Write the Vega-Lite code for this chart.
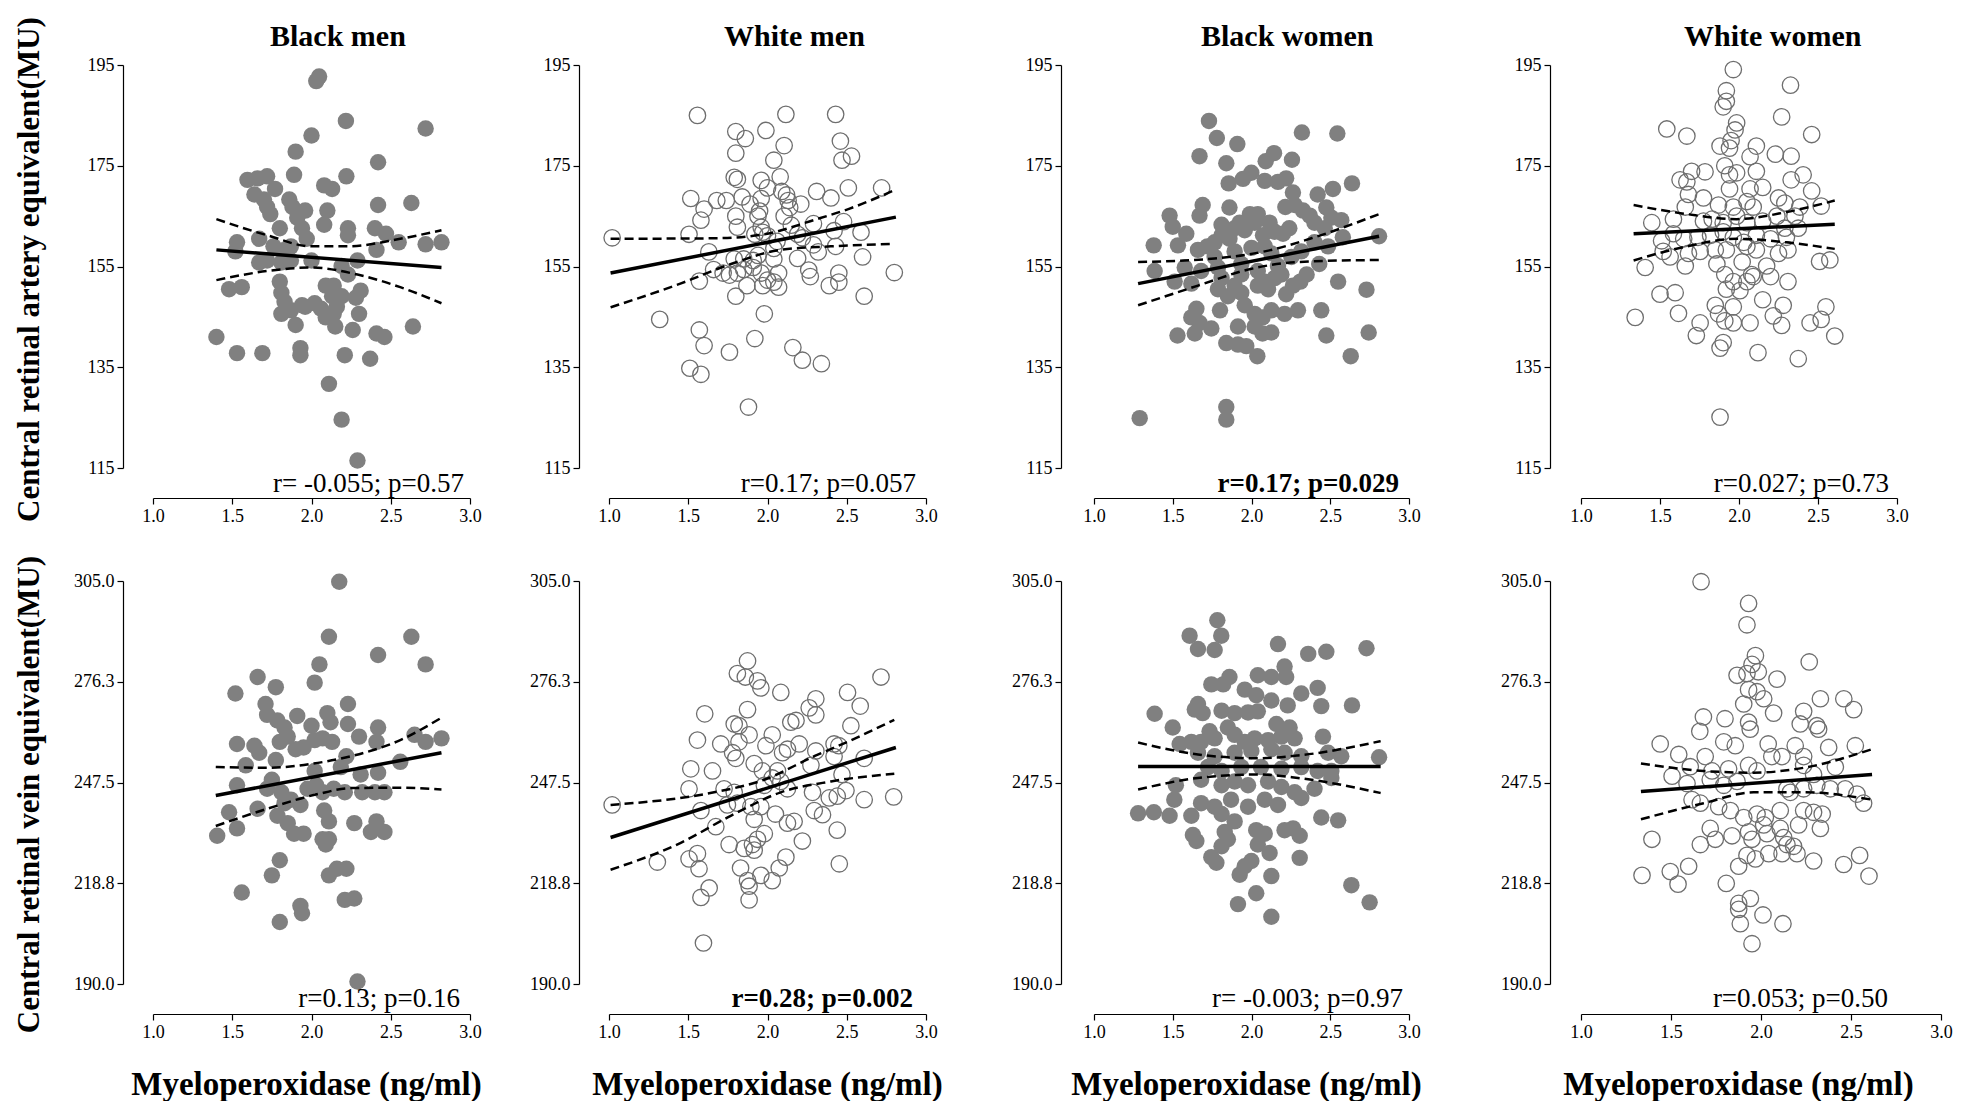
{
"$schema":"https://vega.github.io/schema/vega-lite/v6.json",
"background":"white",
"padding":{"left":12,"top":16,"right":0,"bottom":0},
"config":{"view":{"stroke":null},"font":"Liberation Serif",
"title":{"fontSize":30,"fontWeight":"bold","font":"Liberation Serif","color":"#000"},
"axis":{"grid":false,"labelFlush":false,"labelFont":"Liberation Serif","labelFontSize":18,"labelColor":"#000","tickSize":6,"tickColor":"#000","domainColor":"#000","domainWidth":1.2,"tickWidth":1.2,"labelPadding":3,"titleFont":"Liberation Serif","titleFontWeight":"bold","titleColor":"#000"}},
"datasets":{
"a1":[{"x":2.048,"y":192.7},{"x":2.03,"y":191.8},{"x":2.217,"y":183.9},{"x":2.72,"y":182.4},{"x":2.0,"y":181.0},{"x":1.90,"y":177.8},{"x":2.42,"y":175.7},{"x":1.596,"y":172.2},{"x":1.66,"y":172.5},{"x":1.72,"y":172.9},{"x":1.89,"y":173.2},{"x":2.22,"y":172.9},{"x":1.77,"y":170.4},{"x":2.08,"y":171.1},{"x":2.13,"y":170.4},{"x":1.64,"y":169.3},{"x":1.70,"y":168.3},{"x":1.72,"y":166.8},{"x":1.74,"y":165.4},{"x":1.86,"y":168.3},{"x":1.88,"y":166.8},{"x":1.96,"y":166.1},{"x":1.91,"y":164.7},{"x":1.94,"y":162.6},{"x":2.10,"y":166.1},{"x":2.42,"y":167.2},{"x":2.63,"y":167.6},{"x":1.80,"y":162.6},{"x":2.08,"y":163.3},{"x":2.23,"y":162.6},{"x":2.23,"y":161.2},{"x":2.40,"y":162.6},{"x":2.47,"y":161.5},{"x":1.97,"y":160.5},{"x":1.53,"y":159.8},{"x":1.52,"y":158.0},{"x":1.67,"y":160.5},{"x":1.76,"y":159.0},{"x":1.83,"y":158.3},{"x":1.87,"y":159.0},{"x":2.55,"y":159.8},{"x":2.72,"y":159.4},{"x":2.82,"y":159.8},{"x":2.41,"y":158.3},{"x":1.67,"y":155.8},{"x":1.72,"y":156.2},{"x":1.81,"y":155.8},{"x":1.87,"y":156.2},{"x":2.0,"y":156.2},{"x":2.19,"y":155.1},{"x":2.29,"y":156.2},{"x":2.23,"y":153.4},{"x":1.48,"y":150.5},{"x":1.56,"y":150.9},{"x":1.80,"y":152.0},{"x":1.81,"y":149.8},{"x":1.83,"y":148.0},{"x":2.09,"y":151.2},{"x":2.14,"y":151.2},{"x":2.13,"y":149.1},{"x":2.19,"y":149.1},{"x":2.16,"y":147.0},{"x":2.31,"y":150.2},{"x":2.28,"y":148.8},{"x":1.94,"y":147.3},{"x":1.96,"y":147.0},{"x":2.02,"y":147.7},{"x":2.06,"y":146.6},{"x":2.09,"y":144.9},{"x":2.14,"y":145.6},{"x":1.81,"y":145.6},{"x":1.87,"y":146.3},{"x":1.90,"y":143.4},{"x":2.30,"y":145.6},{"x":2.15,"y":143.1},{"x":2.26,"y":142.4},{"x":2.41,"y":141.7},{"x":2.46,"y":141.0},{"x":2.64,"y":143.1},{"x":1.40,"y":141.0},{"x":1.53,"y":137.8},{"x":1.69,"y":137.8},{"x":1.93,"y":138.8},{"x":1.93,"y":137.4},{"x":2.21,"y":137.4},{"x":2.37,"y":136.7},{"x":2.11,"y":131.7},{"x":2.19,"y":124.6},{"x":2.29,"y":116.5}],
"a2":[{"x":1.558,"y":185.0},{"x":2.116,"y":185.2},{"x":2.43,"y":185.2},{"x":1.80,"y":181.8},{"x":1.86,"y":180.4},{"x":1.99,"y":182.0},{"x":2.46,"y":179.9},{"x":2.105,"y":179.0},{"x":1.80,"y":177.5},{"x":2.04,"y":176.1},{"x":2.53,"y":176.9},{"x":2.47,"y":176.1},{"x":1.79,"y":172.7},{"x":1.81,"y":172.3},{"x":1.96,"y":172.1},{"x":2.08,"y":172.8},{"x":2.0,"y":170.6},{"x":2.09,"y":169.9},{"x":2.12,"y":169.2},{"x":2.31,"y":169.9},{"x":2.51,"y":170.6},{"x":2.72,"y":170.6},{"x":1.516,"y":168.5},{"x":1.68,"y":168.1},{"x":1.74,"y":168.1},{"x":1.84,"y":168.8},{"x":1.89,"y":167.4},{"x":1.95,"y":166.0},{"x":1.96,"y":168.5},{"x":2.13,"y":168.1},{"x":2.14,"y":166.7},{"x":2.21,"y":167.4},{"x":2.40,"y":168.6},{"x":1.60,"y":166.4},{"x":1.58,"y":164.2},{"x":1.80,"y":165.0},{"x":1.81,"y":162.8},{"x":1.94,"y":165.0},{"x":1.96,"y":162.8},{"x":2.105,"y":165.0},{"x":2.15,"y":163.2},{"x":2.29,"y":163.5},{"x":2.48,"y":163.9},{"x":2.42,"y":162.1},{"x":2.59,"y":161.8},{"x":1.505,"y":161.4},{"x":1.92,"y":161.4},{"x":1.97,"y":161.8},{"x":2.0,"y":161.1},{"x":2.06,"y":160.0},{"x":2.04,"y":158.6},{"x":2.19,"y":161.4},{"x":2.22,"y":160.7},{"x":2.29,"y":159.3},{"x":2.32,"y":157.9},{"x":2.43,"y":159.0},{"x":1.02,"y":160.7},{"x":1.63,"y":157.9},{"x":1.79,"y":156.5},{"x":1.85,"y":156.5},{"x":1.91,"y":156.2},{"x":1.94,"y":157.2},{"x":2.04,"y":156.5},{"x":2.19,"y":156.6},{"x":2.60,"y":156.9},{"x":1.66,"y":154.4},{"x":1.72,"y":153.7},{"x":1.76,"y":153.3},{"x":1.81,"y":153.7},{"x":1.85,"y":154.4},{"x":1.91,"y":154.8},{"x":1.96,"y":153.7},{"x":2.0,"y":152.3},{"x":2.07,"y":153.7},{"x":2.26,"y":154.3},{"x":2.27,"y":153.0},{"x":2.45,"y":153.7},{"x":2.80,"y":153.8},{"x":1.57,"y":152.1},{"x":1.87,"y":151.2},{"x":1.97,"y":151.2},{"x":2.04,"y":151.9},{"x":2.07,"y":150.9},{"x":2.39,"y":151.2},{"x":2.45,"y":151.9},{"x":1.80,"y":149.1},{"x":2.61,"y":149.1},{"x":1.98,"y":145.6},{"x":1.32,"y":144.5},{"x":1.57,"y":142.4},{"x":1.60,"y":139.3},{"x":1.92,"y":140.7},{"x":1.76,"y":138.0},{"x":2.16,"y":138.9},{"x":2.22,"y":136.4},{"x":2.34,"y":135.7},{"x":1.51,"y":134.8},{"x":1.58,"y":133.6},{"x":1.88,"y":127.1}],
"a3":[{"x":1.73,"y":183.9},{"x":1.78,"y":180.5},{"x":1.91,"y":179.3},{"x":2.32,"y":181.6},{"x":2.545,"y":181.4},{"x":1.67,"y":176.9},{"x":1.84,"y":175.5},{"x":2.09,"y":175.9},{"x":2.143,"y":177.5},{"x":2.257,"y":176.2},{"x":1.855,"y":171.5},{"x":1.946,"y":172.4},{"x":1.999,"y":173.6},{"x":2.084,"y":172.0},{"x":2.168,"y":171.8},{"x":2.22,"y":172.5},{"x":2.517,"y":170.4},{"x":2.638,"y":171.5},{"x":2.263,"y":169.7},{"x":2.42,"y":169.3},{"x":1.69,"y":167.2},{"x":1.67,"y":165.1},{"x":1.86,"y":166.7},{"x":2.215,"y":166.8},{"x":2.274,"y":167.2},{"x":2.327,"y":166.1},{"x":2.475,"y":166.7},{"x":1.48,"y":165.1},{"x":1.50,"y":162.9},{"x":1.586,"y":161.5},{"x":1.379,"y":159.2},{"x":1.533,"y":159.2},{"x":1.81,"y":163.3},{"x":1.81,"y":161.2},{"x":1.925,"y":163.7},{"x":1.957,"y":162.2},{"x":1.99,"y":165.4},{"x":2.04,"y":165.4},{"x":2.02,"y":163.7},{"x":2.115,"y":163.7},{"x":2.147,"y":161.9},{"x":2.24,"y":162.6},{"x":2.2,"y":161.5},{"x":2.37,"y":165.1},{"x":2.40,"y":163.7},{"x":2.57,"y":164.2},{"x":2.465,"y":162.6},{"x":2.486,"y":159.0},{"x":2.58,"y":160.8},{"x":2.81,"y":161.0},{"x":1.66,"y":158.3},{"x":1.72,"y":159.0},{"x":1.766,"y":159.8},{"x":1.86,"y":160.5},{"x":1.893,"y":158.0},{"x":2.0,"y":158.7},{"x":2.084,"y":159.0},{"x":2.126,"y":157.6},{"x":2.316,"y":158.0},{"x":2.43,"y":155.5},{"x":1.385,"y":154.1},{"x":1.512,"y":152.0},{"x":1.576,"y":154.8},{"x":1.618,"y":151.6},{"x":1.68,"y":154.1},{"x":1.787,"y":154.8},{"x":1.81,"y":152.7},{"x":1.935,"y":155.5},{"x":1.935,"y":153.4},{"x":2.04,"y":154.1},{"x":2.084,"y":152.0},{"x":2.168,"y":155.1},{"x":2.19,"y":153.4},{"x":2.35,"y":153.4},{"x":2.31,"y":152.0},{"x":1.787,"y":150.5},{"x":1.85,"y":149.1},{"x":1.80,"y":146.3},{"x":1.935,"y":149.8},{"x":1.957,"y":147.3},{"x":2.04,"y":151.2},{"x":2.105,"y":150.5},{"x":2.22,"y":149.5},{"x":2.263,"y":151.2},{"x":2.55,"y":152.0},{"x":2.73,"y":150.4},{"x":1.65,"y":146.6},{"x":1.618,"y":144.9},{"x":1.67,"y":143.8},{"x":1.745,"y":142.7},{"x":1.64,"y":141.7},{"x":1.914,"y":143.1},{"x":2.02,"y":145.6},{"x":2.07,"y":144.9},{"x":2.126,"y":146.3},{"x":2.21,"y":145.6},{"x":2.295,"y":146.3},{"x":2.443,"y":146.3},{"x":2.02,"y":143.1},{"x":2.07,"y":141.7},{"x":2.126,"y":141.9},{"x":1.53,"y":141.3},{"x":2.475,"y":141.3},{"x":2.744,"y":141.9},{"x":1.84,"y":139.8},{"x":1.914,"y":139.5},{"x":1.967,"y":139.2},{"x":2.037,"y":137.2},{"x":2.63,"y":137.2},{"x":1.84,"y":127.1},{"x":1.84,"y":124.6},{"x":1.29,"y":124.9},{"x":1.893,"y":162.6},{"x":2.073,"y":161.2},{"x":1.766,"y":156.9},{"x":2.253,"y":156.9},{"x":2.40,"y":159.8},{"x":2.507,"y":164.7},{"x":2.147,"y":152.7},{"x":1.893,"y":151.2}],
"a4":[{"x":1.964,"y":194.1},{"x":2.326,"y":191.0},{"x":1.92,"y":189.9},{"x":1.90,"y":186.7},{"x":1.92,"y":187.8},{"x":2.27,"y":184.7},{"x":1.985,"y":183.5},{"x":1.975,"y":182.1},{"x":1.543,"y":182.3},{"x":1.67,"y":180.9},{"x":2.46,"y":181.2},{"x":1.95,"y":180.0},{"x":1.94,"y":178.5},{"x":1.88,"y":178.9},{"x":2.11,"y":178.9},{"x":2.23,"y":177.3},{"x":2.33,"y":176.9},{"x":2.07,"y":176.8},{"x":1.91,"y":175.0},{"x":1.94,"y":173.2},{"x":1.985,"y":173.6},{"x":2.11,"y":173.9},{"x":1.70,"y":173.9},{"x":1.785,"y":173.8},{"x":1.627,"y":172.2},{"x":1.67,"y":171.8},{"x":2.406,"y":173.2},{"x":2.33,"y":172.2},{"x":2.46,"y":170.0},{"x":1.68,"y":169.3},{"x":1.775,"y":168.6},{"x":1.94,"y":170.4},{"x":2.07,"y":170.4},{"x":2.15,"y":170.7},{"x":2.25,"y":168.6},{"x":2.29,"y":167.6},{"x":1.66,"y":166.8},{"x":1.87,"y":167.2},{"x":1.964,"y":166.8},{"x":2.05,"y":167.9},{"x":2.09,"y":166.8},{"x":2.385,"y":166.8},{"x":2.52,"y":167.0},{"x":1.448,"y":163.7},{"x":1.585,"y":164.4},{"x":1.775,"y":164.0},{"x":1.83,"y":164.4},{"x":1.90,"y":163.7},{"x":1.985,"y":165.0},{"x":2.05,"y":163.7},{"x":2.15,"y":164.0},{"x":2.24,"y":165.0},{"x":2.29,"y":162.6},{"x":2.354,"y":165.0},{"x":2.375,"y":162.6},{"x":1.51,"y":160.1},{"x":1.585,"y":161.5},{"x":1.65,"y":160.5},{"x":1.74,"y":160.8},{"x":1.82,"y":161.2},{"x":1.90,"y":161.9},{"x":1.964,"y":160.8},{"x":2.03,"y":159.8},{"x":2.11,"y":161.2},{"x":2.20,"y":160.5},{"x":2.30,"y":160.8},{"x":1.52,"y":158.0},{"x":1.564,"y":156.9},{"x":1.68,"y":157.6},{"x":1.754,"y":158.0},{"x":1.85,"y":158.3},{"x":1.92,"y":158.3},{"x":2.05,"y":159.0},{"x":2.11,"y":158.3},{"x":2.25,"y":157.6},{"x":2.31,"y":158.3},{"x":1.406,"y":154.8},{"x":1.66,"y":155.1},{"x":1.86,"y":155.5},{"x":1.91,"y":153.4},{"x":2.02,"y":155.9},{"x":2.08,"y":153.4},{"x":2.175,"y":155.1},{"x":2.20,"y":153.0},{"x":2.51,"y":156.0},{"x":2.575,"y":156.3},{"x":1.50,"y":149.5},{"x":1.596,"y":149.8},{"x":1.92,"y":150.5},{"x":1.964,"y":152.0},{"x":2.006,"y":150.2},{"x":2.05,"y":152.0},{"x":2.09,"y":153.0},{"x":2.31,"y":152.0},{"x":2.15,"y":148.4},{"x":1.85,"y":147.3},{"x":1.964,"y":147.0},{"x":2.28,"y":147.3},{"x":2.55,"y":147.0},{"x":1.343,"y":144.9},{"x":1.617,"y":145.7},{"x":1.754,"y":143.8},{"x":1.87,"y":145.6},{"x":1.91,"y":144.2},{"x":1.964,"y":143.8},{"x":2.07,"y":143.8},{"x":2.217,"y":145.2},{"x":2.27,"y":143.3},{"x":2.45,"y":143.8},{"x":2.52,"y":144.5},{"x":1.73,"y":141.3},{"x":1.90,"y":139.9},{"x":1.88,"y":138.8},{"x":2.606,"y":141.2},{"x":2.12,"y":137.9},{"x":2.375,"y":136.7},{"x":1.88,"y":125.1}],
"b1":[{"x":2.175,"y":304.8},{"x":2.11,"y":289.1},{"x":2.63,"y":289.1},{"x":2.42,"y":283.9},{"x":2.05,"y":281.2},{"x":2.72,"y":281.2},{"x":2.02,"y":276.0},{"x":1.66,"y":277.6},{"x":1.775,"y":274.7},{"x":1.52,"y":272.9},{"x":1.71,"y":269.9},{"x":1.72,"y":266.8},{"x":2.23,"y":269.9},{"x":1.91,"y":266.5},{"x":2.10,"y":267.3},{"x":2.12,"y":264.7},{"x":2.23,"y":264.2},{"x":1.785,"y":265.2},{"x":1.83,"y":263.2},{"x":2.0,"y":263.7},{"x":2.42,"y":263.2},{"x":2.30,"y":260.6},{"x":2.65,"y":261.1},{"x":2.72,"y":259.1},{"x":2.82,"y":260.1},{"x":1.53,"y":258.5},{"x":1.64,"y":258.0},{"x":1.67,"y":256.0},{"x":1.80,"y":259.1},{"x":1.85,"y":260.6},{"x":1.90,"y":257.0},{"x":1.95,"y":257.5},{"x":2.02,"y":259.6},{"x":2.07,"y":260.1},{"x":2.13,"y":259.1},{"x":2.41,"y":259.1},{"x":1.585,"y":252.4},{"x":1.775,"y":253.9},{"x":2.56,"y":253.4},{"x":2.22,"y":255.0},{"x":2.185,"y":251.9},{"x":2.02,"y":250.8},{"x":1.53,"y":246.7},{"x":1.75,"y":248.3},{"x":1.72,"y":245.7},{"x":1.81,"y":244.7},{"x":1.975,"y":245.7},{"x":2.03,"y":246.7},{"x":2.07,"y":244.7},{"x":2.14,"y":245.7},{"x":2.21,"y":244.7},{"x":2.31,"y":249.8},{"x":2.32,"y":244.7},{"x":2.40,"y":244.7},{"x":2.46,"y":244.7},{"x":2.42,"y":250.3},{"x":1.83,"y":241.6},{"x":1.87,"y":242.6},{"x":1.93,"y":241.1},{"x":1.48,"y":239.0},{"x":1.66,"y":240.0},{"x":1.785,"y":238.0},{"x":1.85,"y":235.9},{"x":2.08,"y":239.5},{"x":2.11,"y":236.4},{"x":2.27,"y":235.9},{"x":2.41,"y":236.4},{"x":1.53,"y":234.4},{"x":1.405,"y":232.3},{"x":1.89,"y":232.9},{"x":1.95,"y":232.9},{"x":2.07,"y":231.3},{"x":2.11,"y":231.3},{"x":2.09,"y":229.8},{"x":2.375,"y":233.4},{"x":2.46,"y":233.4},{"x":1.80,"y":225.3},{"x":1.75,"y":221.0},{"x":1.56,"y":216.1},{"x":2.11,"y":221.0},{"x":2.16,"y":222.9},{"x":2.22,"y":222.9},{"x":2.21,"y":214.0},{"x":2.27,"y":214.4},{"x":1.93,"y":212.3},{"x":1.94,"y":210.2},{"x":1.80,"y":207.7},{"x":2.29,"y":190.7}],
"b2":[{"x":1.874,"y":282.2},{"x":1.81,"y":278.6},{"x":1.86,"y":277.6},{"x":1.937,"y":276.5},{"x":1.958,"y":274.5},{"x":2.716,"y":277.6},{"x":2.084,"y":273.2},{"x":2.505,"y":273.2},{"x":2.305,"y":271.4},{"x":2.263,"y":268.8},{"x":2.305,"y":266.8},{"x":2.585,"y":269.3},{"x":1.604,"y":267.1},{"x":1.874,"y":268.3},{"x":1.79,"y":264.2},{"x":1.82,"y":263.7},{"x":2.147,"y":264.7},{"x":2.18,"y":265.2},{"x":2.526,"y":263.7},{"x":1.884,"y":261.1},{"x":2.03,"y":261.1},{"x":1.558,"y":259.6},{"x":1.705,"y":258.5},{"x":1.82,"y":259.1},{"x":1.78,"y":256.0},{"x":1.80,"y":254.4},{"x":1.99,"y":258.0},{"x":2.095,"y":256.0},{"x":2.126,"y":257.0},{"x":2.2,"y":258.5},{"x":2.305,"y":256.5},{"x":2.42,"y":258.5},{"x":2.45,"y":258.0},{"x":2.61,"y":254.4},{"x":1.516,"y":251.4},{"x":1.653,"y":250.8},{"x":1.916,"y":252.9},{"x":1.968,"y":250.8},{"x":2.063,"y":250.8},{"x":2.03,"y":248.8},{"x":2.274,"y":252.4},{"x":2.42,"y":254.9},{"x":2.47,"y":249.8},{"x":1.505,"y":245.7},{"x":1.726,"y":245.7},{"x":1.79,"y":244.7},{"x":1.98,"y":246.7},{"x":2.084,"y":247.8},{"x":2.126,"y":245.7},{"x":2.284,"y":244.7},{"x":2.39,"y":243.1},{"x":2.44,"y":243.6},{"x":2.495,"y":245.2},{"x":2.61,"y":242.6},{"x":2.796,"y":243.4},{"x":1.02,"y":241.1},{"x":1.58,"y":239.5},{"x":1.747,"y":241.1},{"x":1.81,"y":241.6},{"x":1.895,"y":240.6},{"x":1.958,"y":240.6},{"x":2.05,"y":238.5},{"x":2.126,"y":235.9},{"x":2.168,"y":236.4},{"x":2.295,"y":239.5},{"x":2.347,"y":238.3},{"x":1.674,"y":234.9},{"x":1.916,"y":237.0},{"x":1.98,"y":232.9},{"x":1.937,"y":231.3},{"x":2.22,"y":230.8},{"x":2.44,"y":233.9},{"x":1.758,"y":229.8},{"x":1.853,"y":228.7},{"x":1.905,"y":229.8},{"x":1.916,"y":228.2},{"x":1.558,"y":227.2},{"x":1.505,"y":225.7},{"x":1.305,"y":224.8},{"x":2.453,"y":224.3},{"x":1.568,"y":222.9},{"x":1.83,"y":223.1},{"x":2.116,"y":226.2},{"x":2.074,"y":223.1},{"x":1.958,"y":221.0},{"x":2.03,"y":219.5},{"x":1.874,"y":219.5},{"x":1.884,"y":217.9},{"x":1.632,"y":217.4},{"x":1.58,"y":214.7},{"x":1.884,"y":214.0},{"x":1.596,"y":201.7}],
"b3":[{"x":1.783,"y":293.8},{"x":1.607,"y":289.4},{"x":1.66,"y":285.6},{"x":1.808,"y":289.4},{"x":1.766,"y":285.3},{"x":2.168,"y":287.0},{"x":2.36,"y":284.2},{"x":2.475,"y":284.8},{"x":2.73,"y":285.8},{"x":2.21,"y":280.6},{"x":2.22,"y":277.6},{"x":2.04,"y":278.1},{"x":2.126,"y":277.6},{"x":1.86,"y":277.6},{"x":1.82,"y":275.5},{"x":1.745,"y":275.5},{"x":1.957,"y":274.0},{"x":2.03,"y":272.4},{"x":2.316,"y":272.9},{"x":2.42,"y":274.5},{"x":1.66,"y":269.9},{"x":1.64,"y":268.3},{"x":1.69,"y":267.3},{"x":1.385,"y":267.1},{"x":1.81,"y":268.0},{"x":1.893,"y":267.3},{"x":1.978,"y":267.5},{"x":2.04,"y":267.8},{"x":2.126,"y":270.9},{"x":2.23,"y":269.5},{"x":2.443,"y":269.3},{"x":2.638,"y":269.5},{"x":1.50,"y":263.2},{"x":1.734,"y":262.1},{"x":1.85,"y":263.2},{"x":2.158,"y":264.2},{"x":2.242,"y":263.2},{"x":1.544,"y":258.5},{"x":1.618,"y":259.1},{"x":1.68,"y":259.1},{"x":1.766,"y":260.1},{"x":1.893,"y":261.1},{"x":1.957,"y":259.1},{"x":2.02,"y":260.1},{"x":2.105,"y":259.6},{"x":2.19,"y":260.6},{"x":2.274,"y":260.1},{"x":2.454,"y":260.6},{"x":1.66,"y":256.0},{"x":1.766,"y":255.0},{"x":1.893,"y":256.0},{"x":1.999,"y":256.5},{"x":2.126,"y":257.0},{"x":2.21,"y":256.0},{"x":2.316,"y":255.0},{"x":2.486,"y":256.0},{"x":2.57,"y":255.0},{"x":2.81,"y":254.7},{"x":1.724,"y":251.9},{"x":1.81,"y":250.8},{"x":1.935,"y":251.9},{"x":2.06,"y":251.9},{"x":2.19,"y":251.4},{"x":2.316,"y":251.9},{"x":2.42,"y":250.8},{"x":2.507,"y":250.8},{"x":1.52,"y":246.7},{"x":1.68,"y":248.3},{"x":1.81,"y":246.7},{"x":1.893,"y":247.8},{"x":1.978,"y":246.7},{"x":2.105,"y":247.8},{"x":2.19,"y":246.2},{"x":2.274,"y":244.7},{"x":2.40,"y":245.7},{"x":2.507,"y":248.8},{"x":1.51,"y":242.6},{"x":1.68,"y":241.6},{"x":1.766,"y":240.6},{"x":1.87,"y":242.6},{"x":1.978,"y":240.6},{"x":2.084,"y":242.6},{"x":2.168,"y":241.1},{"x":2.316,"y":243.1},{"x":1.28,"y":238.7},{"x":1.38,"y":239.0},{"x":1.48,"y":238.0},{"x":1.618,"y":238.0},{"x":1.81,"y":238.5},{"x":1.893,"y":236.4},{"x":2.443,"y":237.5},{"x":2.55,"y":236.7},{"x":1.628,"y":232.5},{"x":1.65,"y":230.8},{"x":1.83,"y":233.4},{"x":1.85,"y":231.3},{"x":2.03,"y":233.9},{"x":2.084,"y":232.9},{"x":2.21,"y":233.9},{"x":2.264,"y":234.4},{"x":2.306,"y":232.3},{"x":1.81,"y":229.3},{"x":2.04,"y":229.8},{"x":2.115,"y":227.4},{"x":1.745,"y":226.2},{"x":1.777,"y":224.6},{"x":2.306,"y":226.0},{"x":1.999,"y":225.1},{"x":1.957,"y":223.6},{"x":1.925,"y":221.2},{"x":2.126,"y":220.8},{"x":2.634,"y":218.2},{"x":2.03,"y":215.9},{"x":1.914,"y":212.8},{"x":2.75,"y":213.3},{"x":2.126,"y":209.2}],
"b4":[{"x":1.667,"y":304.8},{"x":1.931,"y":298.6},{"x":1.922,"y":292.5},{"x":2.268,"y":281.9},{"x":1.969,"y":283.7},{"x":1.95,"y":281.2},{"x":1.867,"y":278.1},{"x":1.922,"y":278.6},{"x":1.985,"y":279.1},{"x":2.089,"y":277.0},{"x":1.931,"y":274.0},{"x":1.978,"y":273.4},{"x":2.015,"y":271.4},{"x":1.904,"y":269.9},{"x":2.07,"y":267.3},{"x":2.33,"y":271.4},{"x":2.46,"y":271.4},{"x":2.515,"y":268.3},{"x":1.68,"y":266.2},{"x":1.66,"y":262.1},{"x":1.80,"y":265.7},{"x":1.931,"y":264.7},{"x":1.94,"y":262.7},{"x":2.218,"y":264.2},{"x":2.237,"y":267.8},{"x":2.31,"y":263.7},{"x":2.32,"y":262.7},{"x":1.44,"y":258.5},{"x":1.543,"y":255.5},{"x":1.69,"y":254.9},{"x":1.793,"y":259.1},{"x":1.857,"y":258.0},{"x":2.04,"y":258.5},{"x":2.06,"y":254.9},{"x":2.117,"y":254.9},{"x":2.19,"y":258.0},{"x":2.237,"y":254.9},{"x":2.376,"y":257.5},{"x":2.524,"y":258.0},{"x":1.506,"y":249.3},{"x":1.607,"y":252.0},{"x":1.728,"y":250.8},{"x":1.82,"y":251.4},{"x":1.931,"y":252.4},{"x":1.978,"y":250.8},{"x":2.237,"y":252.4},{"x":2.292,"y":249.8},{"x":2.413,"y":251.9},{"x":1.589,"y":247.2},{"x":1.718,"y":248.3},{"x":1.793,"y":246.7},{"x":1.867,"y":247.8},{"x":2.144,"y":245.7},{"x":2.163,"y":244.7},{"x":2.237,"y":245.7},{"x":2.31,"y":246.7},{"x":2.385,"y":245.7},{"x":2.533,"y":244.2},{"x":2.57,"y":241.6},{"x":2.468,"y":245.7},{"x":1.617,"y":242.6},{"x":1.663,"y":241.6},{"x":1.765,"y":240.6},{"x":1.83,"y":239.5},{"x":1.904,"y":237.5},{"x":1.978,"y":238.5},{"x":2.024,"y":237.5},{"x":2.237,"y":239.5},{"x":2.292,"y":239.0},{"x":2.34,"y":238.5},{"x":2.107,"y":239.5},{"x":1.718,"y":234.4},{"x":1.746,"y":231.3},{"x":1.663,"y":229.8},{"x":1.839,"y":232.3},{"x":1.931,"y":233.4},{"x":1.95,"y":231.3},{"x":2.015,"y":235.4},{"x":2.033,"y":232.9},{"x":2.107,"y":234.4},{"x":2.126,"y":231.8},{"x":2.144,"y":229.8},{"x":2.209,"y":235.4},{"x":2.33,"y":234.4},{"x":2.181,"y":229.3},{"x":2.2,"y":227.2},{"x":1.922,"y":226.7},{"x":1.969,"y":225.7},{"x":2.043,"y":227.2},{"x":2.117,"y":227.2},{"x":2.292,"y":225.1},{"x":1.394,"y":231.3},{"x":1.598,"y":223.6},{"x":1.496,"y":222.1},{"x":1.539,"y":218.5},{"x":1.339,"y":221.0},{"x":1.876,"y":223.6},{"x":1.807,"y":218.7},{"x":2.459,"y":224.1},{"x":2.548,"y":226.7},{"x":2.60,"y":220.8},{"x":1.941,"y":214.4},{"x":1.876,"y":213.0},{"x":1.876,"y":211.3},{"x":1.885,"y":207.2},{"x":2.011,"y":209.7},{"x":2.122,"y":207.2},{"x":1.95,"y":201.5}],
"f1":[{"x":1.40,"y":158.3,"k":"fit"},{"x":2.82,"y":154.8,"k":"fit"},{"x":1.40,"y":164.4,"k":"up"},{"x":1.72,"y":161.2,"k":"up"},{"x":2.0,"y":159.0,"k":"up"},{"x":2.23,"y":159.0,"k":"up"},{"x":2.56,"y":160.5,"k":"up"},{"x":2.82,"y":162.2,"k":"up"},{"x":1.40,"y":152.3,"k":"lo"},{"x":1.72,"y":154.1,"k":"lo"},{"x":2.0,"y":154.8,"k":"lo"},{"x":2.29,"y":153.4,"k":"lo"},{"x":2.56,"y":150.9,"k":"lo"},{"x":2.82,"y":147.7,"k":"lo"}],
"f2":[{"x":1.01,"y":153.7,"k":"fit"},{"x":2.81,"y":164.8,"k":"fit"},{"x":1.01,"y":160.5,"k":"up"},{"x":1.66,"y":160.6,"k":"up"},{"x":1.98,"y":161.4,"k":"up"},{"x":2.29,"y":164.2,"k":"up"},{"x":2.51,"y":166.4,"k":"up"},{"x":2.79,"y":170.0,"k":"up"},{"x":1.01,"y":146.9,"k":"lo"},{"x":1.45,"y":151.6,"k":"lo"},{"x":1.77,"y":155.5,"k":"lo"},{"x":2.08,"y":158.3,"k":"lo"},{"x":2.40,"y":159.0,"k":"lo"},{"x":2.80,"y":159.5,"k":"lo"}],
"f3":[{"x":1.28,"y":151.6,"k":"fit"},{"x":2.81,"y":161.0,"k":"fit"},{"x":1.28,"y":155.9,"k":"up"},{"x":1.766,"y":156.6,"k":"up"},{"x":2.084,"y":158.0,"k":"up"},{"x":2.40,"y":160.8,"k":"up"},{"x":2.81,"y":165.4,"k":"up"},{"x":1.28,"y":147.3,"k":"lo"},{"x":1.66,"y":151.2,"k":"lo"},{"x":1.98,"y":154.4,"k":"lo"},{"x":2.295,"y":155.9,"k":"lo"},{"x":2.81,"y":156.3,"k":"lo"}],
"f4":[{"x":1.333,"y":161.5,"k":"fit"},{"x":2.606,"y":163.4,"k":"fit"},{"x":1.333,"y":167.2,"k":"up"},{"x":1.67,"y":165.4,"k":"up"},{"x":1.985,"y":164.4,"k":"up"},{"x":2.30,"y":165.8,"k":"up"},{"x":2.606,"y":168.1,"k":"up"},{"x":1.333,"y":156.2,"k":"lo"},{"x":1.67,"y":159.0,"k":"lo"},{"x":1.985,"y":160.5,"k":"lo"},{"x":2.30,"y":159.8,"k":"lo"},{"x":2.606,"y":158.5,"k":"lo"}],
"f5":[{"x":1.396,"y":243.8,"k":"fit"},{"x":2.82,"y":256.0,"k":"fit"},{"x":1.396,"y":251.9,"k":"up"},{"x":1.72,"y":251.7,"k":"up"},{"x":2.04,"y":253.1,"k":"up"},{"x":2.25,"y":255.0,"k":"up"},{"x":2.56,"y":259.6,"k":"up"},{"x":2.82,"y":266.0,"k":"up"},{"x":1.396,"y":235.1,"k":"lo"},{"x":1.72,"y":240.0,"k":"lo"},{"x":2.04,"y":244.2,"k":"lo"},{"x":2.25,"y":245.9,"k":"lo"},{"x":2.56,"y":246.0,"k":"lo"},{"x":2.82,"y":245.5,"k":"lo"}],
"f6":[{"x":1.01,"y":231.8,"k":"fit"},{"x":2.81,"y":257.5,"k":"fit"},{"x":1.01,"y":241.1,"k":"up"},{"x":1.663,"y":244.7,"k":"up"},{"x":1.98,"y":248.3,"k":"up"},{"x":2.295,"y":255.0,"k":"up"},{"x":2.505,"y":259.1,"k":"up"},{"x":2.80,"y":265.4,"k":"up"},{"x":1.01,"y":222.6,"k":"lo"},{"x":1.453,"y":230.3,"k":"lo"},{"x":1.768,"y":238.0,"k":"lo"},{"x":2.084,"y":244.7,"k":"lo"},{"x":2.40,"y":247.8,"k":"lo"},{"x":2.80,"y":250.0,"k":"lo"}],
"f7":[{"x":1.28,"y":252.1,"k":"fit"},{"x":2.82,"y":252.1,"k":"fit"},{"x":1.28,"y":258.9,"k":"up"},{"x":1.66,"y":255.5,"k":"up"},{"x":2.04,"y":254.4,"k":"up"},{"x":2.295,"y":255.2,"k":"up"},{"x":2.82,"y":259.3,"k":"up"},{"x":1.28,"y":245.5,"k":"lo"},{"x":1.66,"y":248.8,"k":"lo"},{"x":2.04,"y":249.8,"k":"lo"},{"x":2.295,"y":248.8,"k":"lo"},{"x":2.82,"y":244.5,"k":"lo"}],
"f8":[{"x":1.333,"y":244.9,"k":"fit"},{"x":2.617,"y":249.8,"k":"fit"},{"x":1.333,"y":252.9,"k":"up"},{"x":1.681,"y":250.8,"k":"up"},{"x":1.959,"y":250.3,"k":"up"},{"x":2.237,"y":251.7,"k":"up"},{"x":2.617,"y":257.0,"k":"up"},{"x":1.333,"y":237.0,"k":"lo"},{"x":1.681,"y":241.6,"k":"lo"},{"x":1.959,"y":244.7,"k":"lo"},{"x":2.237,"y":244.7,"k":"lo"},{"x":2.617,"y":242.6,"k":"lo"}]
},
"concat":[
{"width":456,"height":433,"title":{"text":"Black men","anchor":"start","frame":"group","dx":147,"offset":-35},
"encoding":{"x":{"field":"x","type":"quantitative","scale":{"domain":[1,3],"range":[30,347],"nice":false,"zero":false},"axis":{"values":[1,1.5,2,2.5,3],"format":".1f","title":null}},
"y":{"field":"y","type":"quantitative","scale":{"domain":[115,195],"range":[403,0],"nice":false,"zero":false},"axis":{"values":[115,135,155,175,195],"format":"d","title":"Central retinal artery equivalent(MU)","titleFontSize":31,"titleX":-94,"titleY":204,"titleAngle":270,"titleAlign":"center","titleBaseline":"middle"}}},
"layer":[
{"data":{"name":"a1"},"mark":{"type":"circle","size":270,"color":"#808080","opacity":1}},
{"data":{"name":"f1"},"transform":[{"filter":"datum.k=='fit'"}],"mark":{"type":"line","color":"#000","strokeWidth":3.5},"encoding":{}},
{"data":{"name":"f1"},"transform":[{"filter":"datum.k!='fit'"}],"mark":{"type":"line","color":"#000","strokeWidth":2.5,"strokeDash":[9,5],"interpolate":"monotone"},"encoding":{"detail":{"field":"k"}}},
{"data":{"values":[{"x":2.962,"y":110.2,"t":"r= -0.055; p=0.57"}]},"mark":{"type":"text","align":"right","baseline":"alphabetic","fontSize":27,"color":"#000","font":"Liberation Serif"},"encoding":{"text":{"field":"t"}}}]},
{"width":482,"height":433,"title":{"text":"White men","anchor":"start","frame":"group","dx":145},
"encoding":{"x":{"field":"x","type":"quantitative","scale":{"domain":[1,3],"range":[30,347],"nice":false,"zero":false},"axis":{"values":[1,1.5,2,2.5,3],"format":".1f","title":null}},
"y":{"field":"y","type":"quantitative","scale":{"domain":[115,195],"range":[403,0],"nice":false,"zero":false},"axis":{"values":[115,135,155,175,195],"format":"d","title":null}}},
"layer":[
{"data":{"name":"a2"},"mark":{"type":"point","shape":"circle","filled":false,"size":270,"stroke":"#6e6e6e","strokeWidth":1.3,"opacity":1}},
{"data":{"name":"f2"},"transform":[{"filter":"datum.k=='fit'"}],"mark":{"type":"line","color":"#000","strokeWidth":3.5},"encoding":{}},
{"data":{"name":"f2"},"transform":[{"filter":"datum.k!='fit'"}],"mark":{"type":"line","color":"#000","strokeWidth":2.5,"strokeDash":[9,5],"interpolate":"monotone"},"encoding":{"detail":{"field":"k"}}},
{"data":{"values":[{"x":2.937,"y":110.2,"t":"r=0.17; p=0.057"}]},"mark":{"type":"text","align":"right","baseline":"alphabetic","fontSize":27,"color":"#000","font":"Liberation Serif"},"encoding":{"text":{"field":"t"}}}]},
{"width":489,"height":433,"title":{"text":"Black women","anchor":"start","frame":"group","dx":140},
"encoding":{"x":{"field":"x","type":"quantitative","scale":{"domain":[1,3],"range":[33,348],"nice":false,"zero":false},"axis":{"values":[1,1.5,2,2.5,3],"format":".1f","title":null}},
"y":{"field":"y","type":"quantitative","scale":{"domain":[115,195],"range":[403,0],"nice":false,"zero":false},"axis":{"values":[115,135,155,175,195],"format":"d","title":null}}},
"layer":[
{"data":{"name":"a3"},"mark":{"type":"circle","size":270,"color":"#808080","opacity":1}},
{"data":{"name":"f3"},"transform":[{"filter":"datum.k=='fit'"}],"mark":{"type":"line","color":"#000","strokeWidth":3.5},"encoding":{}},
{"data":{"name":"f3"},"transform":[{"filter":"datum.k!='fit'"}],"mark":{"type":"line","color":"#000","strokeWidth":2.5,"strokeDash":[9,5],"interpolate":"monotone"},"encoding":{"detail":{"field":"k"}}},
{"data":{"values":[{"x":2.937,"y":110.2,"t":"r=0.17; p=0.029"}]},"mark":{"type":"text","align":"right","baseline":"alphabetic","fontSize":27,"fontWeight":"bold","color":"#000","font":"Liberation Serif"},"encoding":{"text":{"field":"t"}}}]},
{"width":347,"height":433,"title":{"text":"White women","anchor":"start","frame":"group","dx":134},
"encoding":{"x":{"field":"x","type":"quantitative","scale":{"domain":[1,3],"range":[31,347],"nice":false,"zero":false},"axis":{"values":[1,1.5,2,2.5,3],"format":".1f","title":null}},
"y":{"field":"y","type":"quantitative","scale":{"domain":[115,195],"range":[403,0],"nice":false,"zero":false},"axis":{"values":[115,135,155,175,195],"format":"d","title":null}}},
"layer":[
{"data":{"name":"a4"},"mark":{"type":"point","shape":"circle","filled":false,"size":270,"stroke":"#6e6e6e","strokeWidth":1.3,"opacity":1}},
{"data":{"name":"f4"},"transform":[{"filter":"datum.k=='fit'"}],"mark":{"type":"line","color":"#000","strokeWidth":3.5},"encoding":{}},
{"data":{"name":"f4"},"transform":[{"filter":"datum.k!='fit'"}],"mark":{"type":"line","color":"#000","strokeWidth":2.5,"strokeDash":[9,5],"interpolate":"monotone"},"encoding":{"detail":{"field":"k"}}},
{"data":{"values":[{"x":2.949,"y":110.2,"t":"r=0.027; p=0.73"}]},"mark":{"type":"text","align":"right","baseline":"alphabetic","fontSize":27,"color":"#000","font":"Liberation Serif"},"encoding":{"text":{"field":"t"}}}]},
{"width":456,"height":433,
"encoding":{"x":{"field":"x","type":"quantitative","scale":{"domain":[1,3],"range":[30,347],"nice":false,"zero":false},"axis":{"values":[1,1.5,2,2.5,3],"format":".1f","title":"Myeloperoxidase (ng/ml)","titleFontSize":33,"titleX":183,"titleY":80,"titleAlign":"center","titleBaseline":"alphabetic"}},
"y":{"field":"y","type":"quantitative","scale":{"domain":[190,305],"range":[403,0],"nice":false,"zero":false},"axis":{"values":[190,218.75,247.5,276.25,305],"format":".1f","title":"Central retinal vein equivalent(MU)","titleFontSize":31,"titleX":-94,"titleY":213,"titleAngle":270,"titleAlign":"center","titleBaseline":"middle"}}},
"layer":[
{"data":{"name":"b1"},"mark":{"type":"circle","size":270,"color":"#808080","opacity":1}},
{"data":{"name":"f5"},"transform":[{"filter":"datum.k=='fit'"}],"mark":{"type":"line","color":"#000","strokeWidth":3.5},"encoding":{}},
{"data":{"name":"f5"},"transform":[{"filter":"datum.k!='fit'"}],"mark":{"type":"line","color":"#000","strokeWidth":2.5,"strokeDash":[9,5],"interpolate":"monotone"},"encoding":{"detail":{"field":"k"}}},
{"data":{"values":[{"x":2.937,"y":183.4,"t":"r=0.13; p=0.16"}]},"mark":{"type":"text","align":"right","baseline":"alphabetic","fontSize":27,"color":"#000","font":"Liberation Serif"},"encoding":{"text":{"field":"t"}}}]},
{"width":482,"height":433,
"encoding":{"x":{"field":"x","type":"quantitative","scale":{"domain":[1,3],"range":[30,347],"nice":false,"zero":false},"axis":{"values":[1,1.5,2,2.5,3],"format":".1f","title":"Myeloperoxidase (ng/ml)","titleFontSize":33,"titleX":188,"titleY":80,"titleAlign":"center","titleBaseline":"alphabetic"}},
"y":{"field":"y","type":"quantitative","scale":{"domain":[190,305],"range":[403,0],"nice":false,"zero":false},"axis":{"values":[190,218.75,247.5,276.25,305],"format":".1f","title":null}}},
"layer":[
{"data":{"name":"b2"},"mark":{"type":"point","shape":"circle","filled":false,"size":270,"stroke":"#6e6e6e","strokeWidth":1.3,"opacity":1}},
{"data":{"name":"f6"},"transform":[{"filter":"datum.k=='fit'"}],"mark":{"type":"line","color":"#000","strokeWidth":3.5},"encoding":{}},
{"data":{"name":"f6"},"transform":[{"filter":"datum.k!='fit'"}],"mark":{"type":"line","color":"#000","strokeWidth":2.5,"strokeDash":[9,5],"interpolate":"monotone"},"encoding":{"detail":{"field":"k"}}},
{"data":{"values":[{"x":2.918,"y":183.4,"t":"r=0.28; p=0.002"}]},"mark":{"type":"text","align":"right","baseline":"alphabetic","fontSize":27,"fontWeight":"bold","color":"#000","font":"Liberation Serif"},"encoding":{"text":{"field":"t"}}}]},
{"width":489,"height":433,
"encoding":{"x":{"field":"x","type":"quantitative","scale":{"domain":[1,3],"range":[33,348],"nice":false,"zero":false},"axis":{"values":[1,1.5,2,2.5,3],"format":".1f","title":"Myeloperoxidase (ng/ml)","titleFontSize":33,"titleX":185,"titleY":80,"titleAlign":"center","titleBaseline":"alphabetic"}},
"y":{"field":"y","type":"quantitative","scale":{"domain":[190,305],"range":[403,0],"nice":false,"zero":false},"axis":{"values":[190,218.75,247.5,276.25,305],"format":".1f","title":null}}},
"layer":[
{"data":{"name":"b3"},"mark":{"type":"circle","size":270,"color":"#808080","opacity":1}},
{"data":{"name":"f7"},"transform":[{"filter":"datum.k=='fit'"}],"mark":{"type":"line","color":"#000","strokeWidth":3.5},"encoding":{}},
{"data":{"name":"f7"},"transform":[{"filter":"datum.k!='fit'"}],"mark":{"type":"line","color":"#000","strokeWidth":2.5,"strokeDash":[9,5],"interpolate":"monotone"},"encoding":{"detail":{"field":"k"}}},
{"data":{"values":[{"x":2.962,"y":183.4,"t":"r= -0.003; p=0.97"}]},"mark":{"type":"text","align":"right","baseline":"alphabetic","fontSize":27,"color":"#000","font":"Liberation Serif"},"encoding":{"text":{"field":"t"}}}]},
{"width":391,"height":433,
"encoding":{"x":{"field":"x","type":"quantitative","scale":{"domain":[1,3],"range":[31,391],"nice":false,"zero":false},"axis":{"values":[1,1.5,2,2.5,3],"format":".1f","title":"Myeloperoxidase (ng/ml)","titleFontSize":33,"titleX":188,"titleY":80,"titleAlign":"center","titleBaseline":"alphabetic"}},
"y":{"field":"y","type":"quantitative","scale":{"domain":[190,305],"range":[403,0],"nice":false,"zero":false},"axis":{"values":[190,218.75,247.5,276.25,305],"format":".1f","title":null}}},
"layer":[
{"data":{"name":"b4"},"mark":{"type":"point","shape":"circle","filled":false,"size":270,"stroke":"#6e6e6e","strokeWidth":1.3,"opacity":1}},
{"data":{"name":"f8"},"transform":[{"filter":"datum.k=='fit'"}],"mark":{"type":"line","color":"#000","strokeWidth":3.5},"encoding":{}},
{"data":{"name":"f8"},"transform":[{"filter":"datum.k!='fit'"}],"mark":{"type":"line","color":"#000","strokeWidth":2.5,"strokeDash":[9,5],"interpolate":"monotone"},"encoding":{"detail":{"field":"k"}}},
{"data":{"values":[{"x":2.706,"y":183.4,"t":"r=0.053; p=0.50"}]},"mark":{"type":"text","align":"right","baseline":"alphabetic","fontSize":27,"color":"#000","font":"Liberation Serif"},"encoding":{"text":{"field":"t"}}}]}
],
"columns":4,
"spacing":{"row":83,"column":0},
"bounds":"flush"
}
